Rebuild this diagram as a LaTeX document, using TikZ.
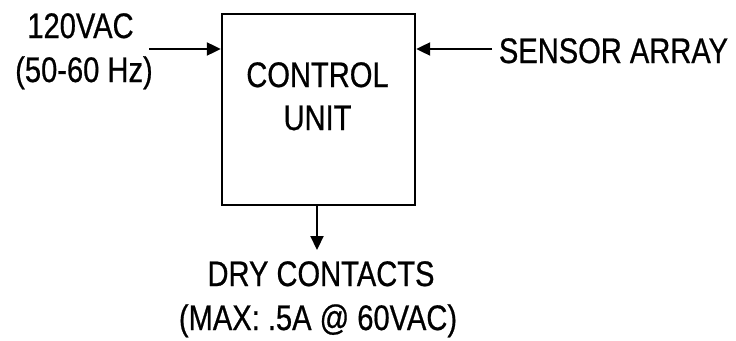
\documentclass[tikz,border=0pt]{standalone}
\usepackage{fontspec}
\setmainfont{Liberation Sans}[FakeStretch=0.82,FakeBold=0.6]
\usetikzlibrary{arrows.meta}
\begin{document}
\begin{tikzpicture}[x=1pt,y=-1pt,
  lbl/.style={inner sep=0pt,anchor=base,font=\fontsize{35.5}{43}\selectfont},
  conn/.style={line width=2.2pt,-{Triangle[length=14pt,width=13pt]}},
  unitbox/.style={draw,line width=2.4pt,minimum width=193pt,minimum height=191pt,inner sep=0pt}]
\useasboundingbox (0,0) rectangle (736,340);
\node[unitbox] (cu) at (318.5,109.5) {};
\node[lbl] (cu1) at (317.5,87) {CONTROL};
\node[lbl] (cu2) at (317.5,130) {UNIT};
\node[lbl] (in1) at (80.5,38) {120VAC};
\node[lbl] (in2) at (84,82) {(50-60 Hz)};
\node[lbl] (sa) at (613.5,63) {SENSOR ARRAY};
\node[lbl] (dc1) at (321,286) {DRY CONTACTS};
\node[lbl] (dc2) at (318,330) {(MAX: .5A @ 60VAC)};
\coordinate (pin) at (149,49);
\coordinate (sin) at (492,49);
\draw[conn] (pin) -- (pin -| cu.west);
\draw[conn] (sin) -- (sin -| cu.east);
\draw[conn] (cu.south -| 317,0) -- (317,250);
\end{tikzpicture}
\end{document}
